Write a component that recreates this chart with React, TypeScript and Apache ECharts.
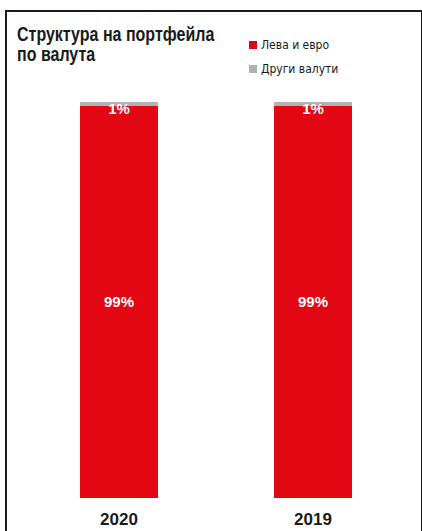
import React, { useEffect, useRef } from "react";
import * as echarts from "echarts";

const categories = ["2020", "2019"];
const localCurrency = [99, 99];
const otherCurrency = [1, 1];
const seriesNames = ["Лева и евро", "Други валути"];
const titleText = "Структура на портфейла\nпо валута";

export default function App() {
  const ref = useRef<HTMLDivElement>(null);
  useEffect(() => {
    if (!ref.current) return;
    const chart = echarts.init(ref.current, undefined, { renderer: "svg" });
    const narrow = "'DejaVu Sans Condensed', 'Liberation Sans Narrow', sans-serif";
    const sans = "'Liberation Sans', Arial, sans-serif";
    chart.setOption({
      animation: false,
      backgroundColor: "#ffffff",
      legend: {
        orient: "vertical",
        left: 249,
        top: 38,
        padding: 0,
        itemWidth: 8,
        itemHeight: 8,
        itemGap: 10,
        icon: "rect",
        textStyle: {
          fontFamily: narrow,
          fontSize: 12,
          lineHeight: 14,
          color: "#1a1a1a",
          padding: [0, 0, 0, -1],
        },
        data: seriesNames,
      },
      grid: { left: 22, right: 12, top: 102, bottom: 33 },
      xAxis: {
        type: "category",
        data: categories,
        axisLine: { show: false },
        axisTick: { show: false },
        axisLabel: {
          margin: 13,
          fontFamily: sans,
          fontWeight: "bold",
          fontSize: 17,
          color: "#1a1a1a",
        },
      },
      yAxis: {
        type: "value",
        min: 0,
        max: 100,
        show: false,
        splitLine: { show: false },
      },
      series: [
        {
          name: seriesNames[0],
          type: "bar",
          stack: "total",
          barWidth: 78,
          data: localCurrency,
          itemStyle: { color: "#e30613" },
          label: {
            show: true,
            position: "inside",
            formatter: "{c}%",
            color: "#ffffff",
            fontFamily: sans,
            fontWeight: "bold",
            fontSize: 15,
          },
        },
        {
          name: seriesNames[1],
          type: "bar",
          stack: "total",
          barWidth: 78,
          data: otherCurrency,
          itemStyle: { color: "#b2b2b2" },
          label: {
            show: true,
            position: "inside",
            offset: [0, 5],
            formatter: "{c}%",
            color: "#ffffff",
            fontFamily: sans,
            fontWeight: "bold",
            fontSize: 15,
          },
        },
      ],
      graphic: [
        {
          type: "text",
          x: 17,
          y: 24,
          scaleX: 0.8,
          style: {
            text: titleText,
            fontFamily: sans,
            fontWeight: "bold",
            fontSize: 20,
            lineHeight: 20,
            fill: "#1a1a1a",
            textVerticalAlign: "top",
            verticalAlign: "top",
          },
        },
        { type: "line", shape: { x1: 6, y1: 11, x2: 422, y2: 11 }, style: { stroke: "#1a1a1a", lineWidth: 2 } },
        { type: "line", shape: { x1: 6, y1: 10, x2: 6, y2: 531 }, style: { stroke: "#1a1a1a", lineWidth: 2 } },
        { type: "line", shape: { x1: 421.5, y1: 10, x2: 421.5, y2: 531 }, style: { stroke: "#1a1a1a", lineWidth: 1 } },
      ],
    });
    return () => chart.dispose();
  }, []);
  return (
    <div
      ref={ref}
      style={{ position: "fixed", left: 0, top: 0, width: 422, height: 531 }}
    />
  );
}
